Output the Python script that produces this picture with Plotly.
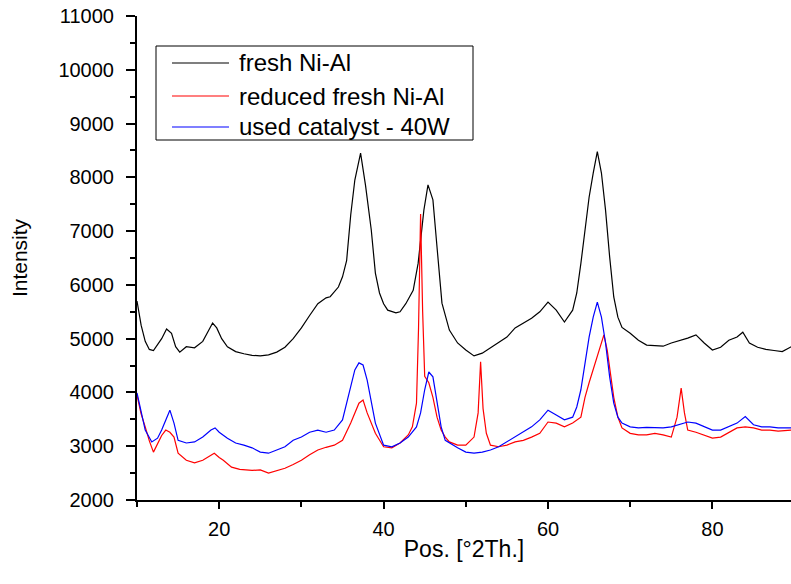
import plotly.graph_objects as go

# ---------------- data ----------------
fresh_x = [10.0, 10.5, 11.0, 11.5, 12.0, 12.5, 13.0, 13.6, 14.2, 14.7, 15.2, 16.0, 17.0, 18.0, 18.7, 19.2,
           19.7, 20.3, 21.0, 22.0, 23.0, 24.0, 25.0, 26.0, 27.0, 28.0, 29.0, 30.0, 31.0, 32.0, 33.0, 33.5,
           34.5, 35.0, 35.5, 36.0, 36.5, 37.2, 37.8, 38.5, 39.0, 39.5, 40.0, 40.5, 41.5, 42.0, 42.7, 43.6,
           44.2, 44.9, 45.4, 46.0, 46.5, 47.1, 48.0, 49.0, 50.0, 51.0, 52.0, 53.0, 54.0, 55.0, 56.0, 57.0,
           58.0, 59.0, 60.0, 61.0, 62.0, 63.0, 63.5, 64.0, 64.5, 65.0, 65.5, 66.0, 66.5, 67.0, 67.5, 68.0,
           68.5, 69.0, 70.0, 71.0, 72.0, 73.0, 74.0, 75.0, 76.0, 77.0, 78.0, 79.0, 80.0, 81.0, 82.0, 83.0,
           83.7, 84.5, 85.5, 86.5, 87.5, 88.5, 89.6]
fresh_y = [5700, 5250, 4950, 4800, 4780, 4880, 5000, 5180, 5100, 4850, 4750, 4850, 4830, 4950, 5150, 5290,
           5200, 5000, 4850, 4760, 4720, 4690, 4680, 4700, 4750, 4840, 5000, 5200, 5430, 5650, 5760, 5780,
           5960, 6150, 6450, 7300, 7950, 8450, 7850, 7020, 6220, 5850, 5650, 5530, 5480, 5500, 5650, 5900,
           6400, 7390, 7860, 7580, 6700, 5660, 5160, 4920, 4790, 4680, 4730, 4830, 4920, 5030, 5200, 5290,
           5380, 5500, 5680, 5530, 5310, 5530, 5850, 6400, 7020, 7630, 8080, 8480, 8080, 7390, 6520, 5775,
           5400, 5210, 5100, 4970, 4880, 4870, 4860, 4920, 4960, 5010, 5070, 4920, 4790, 4840, 4970, 5030,
           5120, 4920, 4840, 4800, 4780, 4760, 4850]

reduced_x = [10.0, 10.5, 11.0, 11.5, 12.0, 12.5, 13.0, 13.5, 14.0, 14.5, 15.0, 16.0, 17.0, 18.0, 19.0, 19.4,
             20.0, 20.5, 21.5, 22.5, 24.0, 25.0, 26.0, 27.0, 28.0, 29.0, 30.0, 31.0, 32.0, 33.0, 34.0, 35.0,
             36.0, 37.0, 37.5, 38.0, 39.0, 40.0, 41.0, 42.0, 43.0, 43.5, 44.0, 44.25, 44.5, 44.75, 45.0, 45.5,
             46.0, 46.5, 47.0, 47.5, 48.0, 49.0, 50.0, 51.0, 51.5, 51.8, 52.1, 52.5, 53.0, 54.0, 55.0, 56.0,
             57.0, 58.0, 59.0, 60.0, 61.0, 62.0, 63.0, 64.0, 64.5, 65.0, 65.5, 66.0, 66.5, 66.8, 67.2, 67.5,
             68.0, 68.5, 69.0, 70.0, 71.0, 72.0, 73.0, 74.0, 75.0, 75.7, 76.2, 76.6, 77.0, 78.0, 79.0, 80.0,
             81.0, 82.0, 83.0, 84.0, 85.0, 86.0, 87.0, 88.0, 89.6]
reduced_y = [3950, 3600, 3360, 3100, 2890, 3060, 3200, 3300, 3260, 3170, 2870, 2740, 2690, 2740, 2830, 2870,
             2790, 2740, 2610, 2570, 2550, 2560, 2500, 2540, 2590, 2660, 2740, 2840, 2930, 2980, 3020, 3110,
             3430, 3800, 3860, 3620, 3240, 2990, 2970, 3060, 3210, 3360, 3800, 5200, 7320, 5500, 4300, 4180,
             3910, 3540, 3300, 3170, 3080, 3020, 3020, 3170, 3620, 4570, 3700, 3240, 3020, 2990, 3020, 3080,
             3110, 3170, 3240, 3450, 3430, 3360, 3430, 3540, 3910, 4180, 4420, 4660, 4920, 5070, 4790, 4420,
             3910, 3540, 3340, 3240, 3210, 3210, 3240, 3210, 3170, 3540, 4080, 3620, 3300, 3260, 3210, 3150,
             3170, 3260, 3340, 3360, 3340, 3300, 3300, 3280, 3300]

used_x = [10.0, 10.5, 11.0, 11.8, 12.5, 13.0, 13.5, 14.0, 14.5, 15.0, 16.0, 17.0, 18.0, 19.0, 19.5, 20.0,
          21.0, 22.0, 23.0, 24.0, 25.0, 26.0, 27.0, 28.0, 29.0, 30.0, 31.0, 32.0, 33.0, 34.0, 35.0, 36.0,
          36.5, 37.0, 37.5, 38.0, 38.5, 39.0, 40.0, 41.0, 42.0, 43.0, 44.0, 44.5, 45.0, 45.5, 46.0, 46.5,
          47.0, 47.5, 48.0, 49.0, 50.0, 51.0, 52.0, 53.0, 54.0, 55.0, 56.0, 57.0, 58.0, 59.0, 60.0, 61.0,
          62.0, 63.0, 63.5, 64.0, 64.5, 65.0, 65.5, 66.0, 66.5, 67.0, 67.5, 68.0, 68.5, 69.0, 70.0, 71.0,
          72.0, 73.0, 74.0, 75.0, 76.0, 77.0, 78.0, 79.0, 80.0, 81.0, 82.0, 83.0, 84.0, 85.0, 86.0, 87.0,
          88.0, 89.6]
used_y = [3990, 3620, 3300, 3080, 3150, 3300, 3490, 3670, 3430, 3110, 3060, 3080, 3170, 3300, 3340, 3260,
          3150, 3060, 3020, 2970, 2890, 2870, 2930, 2990, 3110, 3170, 3260, 3300, 3260, 3300, 3490, 4100,
          4420, 4550, 4510, 4230, 3860, 3430, 3020, 2990, 3060, 3170, 3360, 3620, 4050, 4380, 4290, 3860,
          3360, 3110, 3060, 2970, 2890, 2870, 2890, 2930, 2990, 3080, 3170, 3260, 3360, 3490, 3670, 3580,
          3490, 3540, 3730, 4050, 4550, 5030, 5400, 5680, 5400, 4920, 4290, 3800, 3540, 3430, 3360, 3340,
          3350, 3340, 3340, 3360, 3400, 3450, 3430, 3360, 3300, 3300, 3360, 3430, 3550, 3400, 3360, 3360,
          3340, 3340]

series_names = ["fresh Ni-Al", "reduced fresh Ni-Al", "used catalyst - 40W"]
series_colors = ["#000000", "#ff0000", "#0000ff"]

x_tick_vals = [20, 40, 60, 80]
y_tick_vals = [2000, 3000, 4000, 5000, 6000, 7000, 8000, 9000, 10000, 11000]

# ---------------- figure ----------------
W, H = 791, 584
ML, MR, MT, MB = 137, 0, 16, 84
PW, PH = W - ML - MR, H - MT - MB
FONT = "Arial, Liberation Sans, sans-serif"

fig = go.Figure()
for xs, ys, name, col in zip([fresh_x, reduced_x, used_x], [fresh_y, reduced_y, used_y],
                             series_names, series_colors):
    fig.add_trace(go.Scatter(x=xs, y=ys, mode="lines", name=name,
                             line=dict(color=col, width=1.2), showlegend=False))


def px_x(p):
    return (p - ML) / PW


def px_y(p):
    return (MT + PH - p) / PH


# manual legend box (like the original)
fig.add_shape(type="rect", xref="paper", yref="paper",
              x0=px_x(156), x1=px_x(473), y0=px_y(140), y1=px_y(46),
              line=dict(color="black", width=1), fillcolor="white", layer="above")
rows = [63, 96, 127]
for row, name, col in zip(rows, series_names, series_colors):
    fig.add_shape(type="line", xref="paper", yref="paper",
                  x0=px_x(172), x1=px_x(229), y0=px_y(row), y1=px_y(row),
                  line=dict(color=col, width=1.2), layer="above")
    fig.add_annotation(xref="paper", yref="paper", x=px_x(237), y=px_y(row),
                       text=name, showarrow=False, xanchor="left", yanchor="middle",
                       font=dict(family=FONT, size=24, color="black"))

fig.update_layout(
    width=W, height=H,
    margin=dict(l=ML, r=MR, t=MT, b=MB, pad=0),
    paper_bgcolor="white", plot_bgcolor="white",
    font=dict(family=FONT, color="black"),
)
fig.update_xaxes(
    range=[10, 10 + PW / 8.22], showgrid=False, zeroline=False,
    showline=True, linecolor="black", linewidth=2,
    ticks="outside", ticklen=7, tickwidth=1.5, tickcolor="black",
    tickvals=x_tick_vals, tickfont=dict(size=20, family=FONT),
    ticklabelstandoff=3,
    minor=dict(ticks="outside", ticklen=5, tickwidth=1.5, tickcolor="black", dtick=10, tick0=0),
    title=dict(text="Pos. [°2Th.]", font=dict(size=23, family=FONT), standoff=2),
)
fig.update_yaxes(
    range=[2000, 11000], showgrid=False, zeroline=False,
    showline=True, linecolor="black", linewidth=2,
    ticks="outside", ticklen=9, tickwidth=1.5, tickcolor="black",
    tickvals=y_tick_vals, tickformat="d", tickfont=dict(size=20, family=FONT),
    ticklabelstandoff=8,
    minor=dict(ticks="outside", ticklen=5, tickwidth=1.5, tickcolor="black", dtick=500, tick0=0),
    title=dict(text="Intensity", font=dict(size=21, family=FONT), standoff=25),
)

fig.write_html("out.html")
